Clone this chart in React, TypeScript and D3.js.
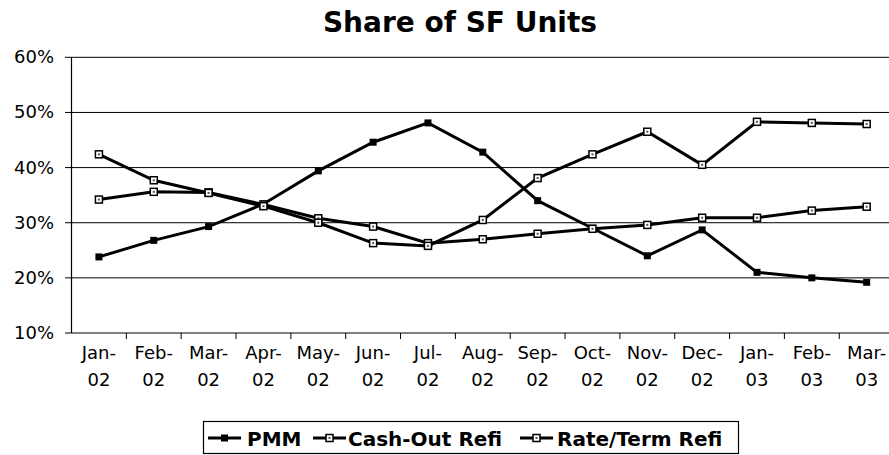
import * as React from "react";
import * as d3 from "d3";

const months = ["Jan-", "Feb-", "Mar-", "Apr-", "May-", "Jun-", "Jul-", "Aug-", "Sep-", "Oct-", "Nov-", "Dec-", "Jan-", "Feb-", "Mar-"];
const years = ["02", "02", "02", "02", "02", "02", "02", "02", "02", "02", "02", "02", "03", "03", "03"];
const categories = months.map((m, i) => m + years[i]);

const pmm = [23.8, 26.8, 29.3, 33.4, 39.4, 44.6, 48.1, 42.8, 34.0, 29.0, 24.0, 28.7, 21.0, 20.0, 19.2];
const cashOut = [34.2, 35.6, 35.5, 33.3, 30.8, 29.3, 26.3, 27.0, 28.0, 28.9, 29.6, 30.9, 30.9, 32.2, 32.9];
const rateTerm = [42.4, 37.7, 35.4, 33.0, 30.0, 26.3, 25.8, 30.5, 38.1, 42.4, 46.5, 40.5, 48.3, 48.1, 47.9];

const yTicks = [10, 20, 30, 40, 50, 60];

const series = [
    {name: "PMM", values: pmm, filled: true},
    {name: "Cash-Out Refi", values: cashOut, filled: false},
    {name: "Rate/Term Refi", values: rateTerm, filled: false},
];

const width = 889;
const height = 455;
const font = "Tahoma, 'DejaVu Sans', sans-serif";

export default function App() {
    const left = 71.5;
    const step = 54.84;
    const x = d3.scaleBand().domain(categories).range([left, left + step * categories.length]);
    const y = d3.scaleLinear().domain([10, 60]).range([333, 57.3]);
    const line = d3.line<number>()
        .x((d, i) => x(categories[i])! + x.bandwidth() / 2)
        .y(d => y(d));

    const marker = (cx: number, cy: number, filled: boolean, key: string) => filled
        ? <rect key={key} x={cx - 3.5} y={cy - 3.5} width={7} height={7} fill="#000"/>
        : <g key={key}>
            <rect x={cx - 3.5} y={cy - 3.5} width={7} height={7} fill="#fff" stroke="#000" strokeWidth={1.5}/>
            <rect x={cx - 1} y={cy - 1} width={2} height={2} fill="#555"/>
        </g>;

    // legend swatch / text positions
    const legendItems = [
        {name: "PMM", filled: true, lx: 208, tx: 247},
        {name: "Cash-Out Refi", filled: false, lx: 313, tx: 348},
        {name: "Rate/Term Refi", filled: false, lx: 520, tx: 557},
    ];

    return (
        <svg width={width} height={height} style={{position: "absolute", left: 0, top: 0, background: "#fff"}}
             fontFamily={font}>
            <text x={460} y={32} textAnchor="middle" fontSize={28} fontWeight="bold">Share of SF Units</text>
            {/* gridlines */}
            {yTicks.map(t => (
                <g key={t}>
                    <line x1={65} x2={width} y1={y(t)} y2={y(t)} stroke="#000" strokeWidth={1}/>
                    <text x={54} y={y(t) + 6} textAnchor="end" fontSize={18}>{t}%</text>
                </g>
            ))}
            <line x1={left} x2={left} y1={y(60)} y2={y(10)} stroke="#000" strokeWidth={1.2}/>
            {/* x ticks */}
            {categories.map((c, i) => (
                <g key={c}>
                    <line x1={x(c)! + step} x2={x(c)! + step} y1={y(10)} y2={y(10) + 6} stroke="#000"/>
                    <text x={x(c)! + x.bandwidth() / 2} y={359} textAnchor="middle" fontSize={18}>{months[i]}</text>
                    <text x={x(c)! + x.bandwidth() / 2} y={386} textAnchor="middle" fontSize={18}>{years[i]}</text>
                </g>
            ))}
            {/* series */}
            {series.map(s => (
                <g key={s.name}>
                    <path d={line(s.values)!} fill="none" stroke="#000" strokeWidth={3}/>
                    {s.values.map((v, i) => marker(x(categories[i])! + x.bandwidth() / 2, y(v), s.filled, s.name + i))}
                </g>
            ))}
            {/* legend */}
            <rect x={203.5} y={421.5} width={535} height={32} fill="#fff" stroke="#000" strokeWidth={1.2}/>
            {legendItems.map(l => (
                <g key={l.name}>
                    <line x1={l.lx} x2={l.lx + 33} y1={438} y2={438} stroke="#000" strokeWidth={3}/>
                    {marker(l.lx + 16.5, 438, l.filled, "lg" + l.name)}
                    <text x={l.tx} y={446} fontSize={20} fontWeight="bold">{l.name}</text>
                </g>
            ))}
        </svg>
    );
}
